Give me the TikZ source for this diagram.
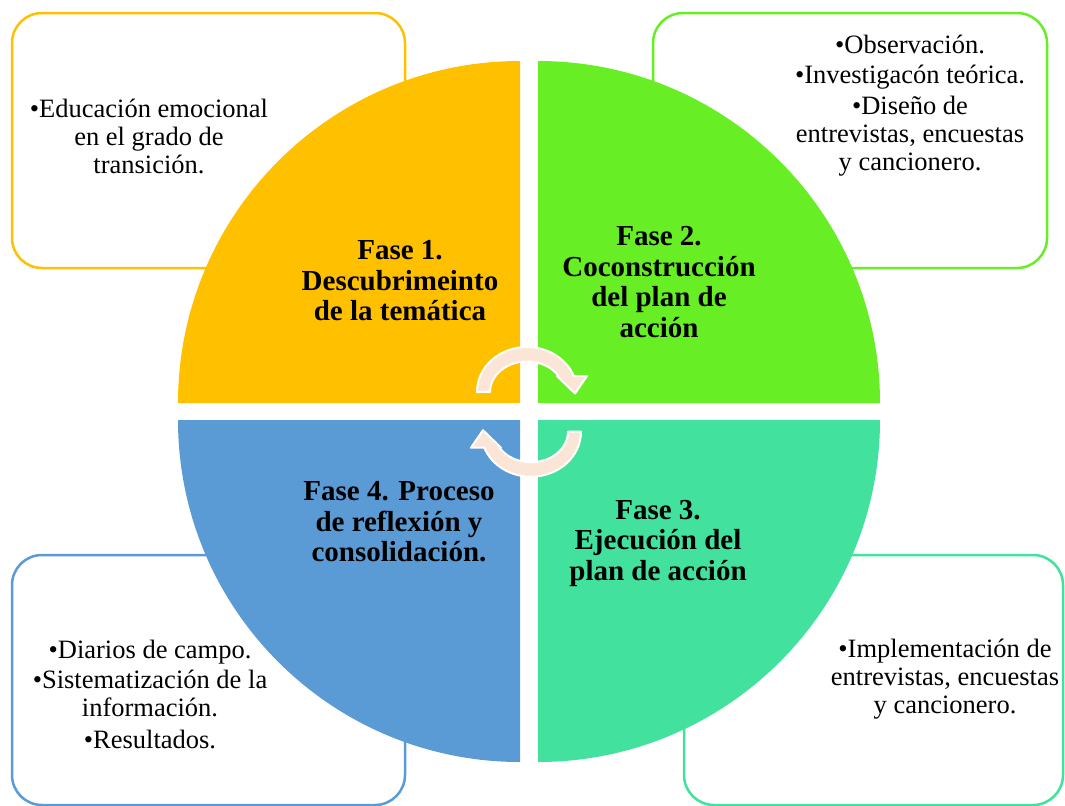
\documentclass[tikz,border=0pt]{standalone}
\usepackage{fontspec}
\setmainfont{Liberation Serif}
\usepackage{tikz}
\usetikzlibrary{positioning,calc}
\definecolor{faseA}{HTML}{FFC000}
\definecolor{faseB}{HTML}{67EE24}
\definecolor{faseC}{HTML}{42E19D}
\definecolor{faseD}{HTML}{5B9BD5}
\definecolor{peach}{HTML}{FBE5D6}
\tikzstyle{infobox}=[
  draw,rounded corners=30bp,line width=2.5bp,fill=white
]
\tikzstyle{infotext}=[
  align=center,font=\fontsize{26.5bp}{28bp}\selectfont
]
\tikzstyle{fasetext}=[
  align=center,font=\bfseries\fontsize{29bp}{30.5bp}\selectfont
]
\tikzstyle{cyclearrow}=[
  fill=peach,draw=white,line width=2bp,line join=round
]

\begin{document}
\begin{tikzpicture}
    \useasboundingbox (0bp,0bp) rectangle (1065bp,-806bp);
    \def\rad{342bp}
    \node (b1) at (208.5bp,-140.5bp) [infobox,draw=faseA,minimum width=393bp,minimum height=255bp] {};
    \node (b2) at (850bp,-140.5bp) [infobox,draw=faseB,minimum width=394bp,minimum height=255bp] {};
    \node (b3) at (873.5bp,-680bp) [infobox,draw=faseC,minimum width=379bp,minimum height=250bp] {};
    \node (b4) at (208.5bp,-680bp) [infobox,draw=faseD,minimum width=393bp,minimum height=250bp] {};
    \coordinate (c1) at (520bp,-403bp);
    \coordinate (c2) at (538bp,-403bp);
    \coordinate (c3) at (538bp,-420bp);
    \coordinate (c4) at (520bp,-420bp);
    \fill [faseA] (c1) -- ++(-\rad,0) arc[start angle=180,end angle=90,radius=\rad] -- cycle;
    \fill [faseB] (c2) -- ++(0,\rad) arc[start angle=90,end angle=0,radius=\rad] -- cycle;
    \fill [faseC] (c3) -- ++(\rad,0) arc[start angle=0,end angle=-90,radius=\rad] -- cycle;
    \fill [faseD] (c4) -- ++(0,-\rad) arc[start angle=270,end angle=180,radius=\rad] -- cycle;
    \node (f1) at (400bp,-281bp) [fasetext] {Fase 1.\\Descubrimeinto\\de la temática};
    \node (f2) at (659bp,-282bp) [fasetext] {Fase 2.\\Coconstrucción\\del plan de\\acción};
    \node (f3) at (658bp,-543bp) [fasetext] {Fase 3.\\Ejecución del\\plan de acción};
    \node (f4) at (399bp,-522bp) [fasetext] {Fase 4. Proceso\\de reflexión y\\consolidación.};
    \node (t1) at (149bp,-136bp) [infotext] {•Educación emocional\\en el grado de\\transición.};
    \node (t2) at (910bp,-106bp) [infotext] {•Observación.\\[2bp]•Investigacón teórica.\\[3bp]•Diseño de\\entrevistas, encuestas\\y cancionero.};
    \node (t3) at (945bp,-679bp) [infotext] {•Implementación de\\entrevistas, encuestas\\y cancionero.};
    \node (t4) at (150bp,-694bp) [infotext] {•Diarios de campo.\\[2bp]•Sistematización de la\\información.\\[4bp]•Resultados.};
    \begin{scope}[shift={(527bp,-392bp)}]
      \draw [cyclearrow] (-50bp,0bp) arc[start angle=180,end angle=20.8,x radius=50bp,y radius=45bp]
        -- (60bp,16bp) -- (48bp,-1.5bp) -- (30bp,16bp) -- (31.5bp,16bp)
        arc[start angle=31.6,end angle=180,x radius=37bp,y radius=30.5bp] -- cycle;
    \end{scope}
    \begin{scope}[shift={(531bp,-431.7bp)},rotate=180]
      \draw [cyclearrow] (-50bp,0bp) arc[start angle=180,end angle=20.8,x radius=50bp,y radius=45bp]
        -- (60bp,16bp) -- (48bp,-1.5bp) -- (30bp,16bp) -- (31.5bp,16bp)
        arc[start angle=31.6,end angle=180,x radius=37bp,y radius=30.5bp] -- cycle;
    \end{scope}
\end{tikzpicture}
\end{document}
